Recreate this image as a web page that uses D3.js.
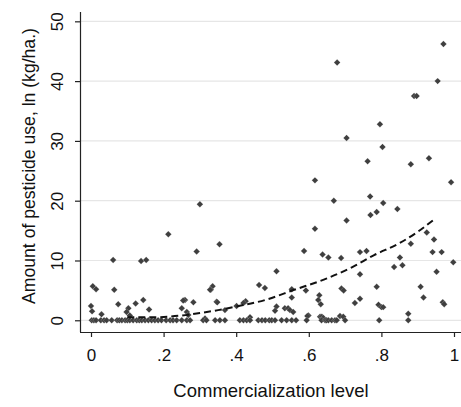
<!DOCTYPE html>
<html>
<head>
<meta charset="utf-8">
<script src="https://cdn.jsdelivr.net/npm/d3@7"></script>
<style>
    body { margin: 0; background: #ffffff; }
    text { font-family: "Liberation Sans", Arial, sans-serif; fill: #111; }
</style>
</head>
<body>
<div id="chart"></div>
<script>
// scatter points: commercialization level vs pesticide use
var commercial = [
    0.971, 0.678, 0.955, 0.890, 0.897, 0.796, 0.704, 0.803, 0.931, 0.762,
    0.881, 0.617, 0.992, 0.769, 0.669, 0.805, 0.300, 0.844, 0.787, 0.770,
    0.704, 0.617, 0.925, 0.213, 0.945, 0.881, 0.354, 0.587, 0.759, 0.741,
    0.941, 0.966, 0.291, 0.638, 0.654, 0.689, 0.851, 0.061, 0.138, 0.152,
    0.998, 0.858, 0.835, 0.511, 0.952, 0.741, 0.463, 0.479, 0.335, 0.330,
    0.005, 0.014, 0.064, 0.328, 0.553, 0.592, 0.690, 0.696, 0.787, 0.908,
    0.629, 0.553, 0.916, 0.741, 0.626, 0.144, 0.259, 0.254, 0.426, 0.346,
    0.282, 0.348, 0.969, 0.420, 0.727, 0.123, 0.075, 0.633, 0.973, 0.792,
    0.000, 0.401, 0.511, 0.800, 0.805, 0.250, 0.103, 0.534, 0.543, 0.160,
    0.369, 0.548, 0.507, 0.003, 0.264, 0.557, 0.098, 0.029, 0.874, 0.268,
    0.107, 0.599, 0.596, 0.686, 0.631, 0.695, 0.636, 0.438, 0.640, 0.314,
    // zero-use farms
    0.002, 0.008, 0.014, 0.027, 0.036, 0.043, 0.057, 0.072, 0.078, 0.085,
    0.094, 0.100, 0.107, 0.116, 0.126, 0.133, 0.140, 0.149, 0.158, 0.167,
    0.176, 0.185, 0.194, 0.207, 0.218, 0.226, 0.236, 0.250, 0.264, 0.273,
    0.309, 0.318, 0.342, 0.355, 0.369, 0.410, 0.420, 0.429, 0.438, 0.461,
    0.471, 0.480, 0.491, 0.498, 0.507, 0.525, 0.539, 0.553, 0.565, 0.594,
    0.635, 0.645, 0.649, 0.654, 0.663, 0.672, 0.677, 0.700, 0.794, 0.874
];
var pesticide = [
    46.2, 43.1, 40.0, 37.5, 37.5, 32.8, 30.5, 29.0, 27.1, 26.6,
    26.1, 23.4, 23.1, 20.7, 20.0, 19.6, 19.4, 18.6, 18.1, 17.6,
    16.7, 15.3, 14.7, 14.4, 13.5, 12.8, 12.7, 11.6, 11.6, 11.4,
    11.4, 11.4, 11.5, 11.0, 10.5, 10.4, 10.5, 10.1, 9.9, 10.1,
    9.7, 9.2, 8.9, 8.2, 8.1, 7.7, 5.9, 5.4, 5.7, 5.1,
    5.7, 5.2, 5.1, 5.1, 5.2, 5.0, 5.3, 5.0, 5.6, 5.6,
    4.2, 3.8, 3.8, 3.6, 3.4, 3.4, 3.4, 3.3, 3.2, 3.1,
    3.0, 3.0, 3.0, 2.9, 2.9, 2.8, 2.7, 2.7, 2.7, 2.6,
    2.4, 2.4, 2.3, 2.2, 2.2, 2.0, 2.0, 2.0, 2.0, 1.8,
    1.7, 1.7, 1.6, 1.5, 1.4, 1.4, 1.4, 1.0, 1.1, 0.9,
    0.8, 0.8, 0.7, 0.7, 0.6, 0.6, 0.6, 0.5, 0.4, 0.3,
    0, 0, 0, 0, 0, 0, 0, 0, 0, 0,
    0, 0, 0, 0, 0, 0, 0, 0, 0, 0,
    0, 0, 0, 0, 0, 0, 0, 0, 0, 0,
    0, 0, 0, 0, 0, 0, 0, 0, 0, 0,
    0, 0, 0, 0, 0, 0, 0, 0, 0, 0,
    0, 0, 0, 0, 0, 0, 0, 0, 0, 0
];

// fitted curve
var fitX = [0.10, 0.17, 0.25, 0.30, 0.35, 0.40, 0.48, 0.56, 0.65, 0.72, 0.78, 0.85, 0.90, 0.95];
var fitY = [0.5, 0.5, 0.8, 1.2, 1.7, 2.3, 3.4, 5.1, 7.0, 8.9, 10.9, 12.9, 14.8, 17.1];

var xTicks = [0, 0.2, 0.4, 0.6, 0.8, 1];
var xTickLabels = ["0", ".2", ".4", ".6", ".8", "1"];
var yTicks = [0, 10, 20, 30, 40, 50];

var svgWidth = 461;
var svgHeight = 407;

var margin = { top: 12, right: 0, bottom: 75, left: 80 };
var width = svgWidth - margin.left - margin.right;
var height = svgHeight - margin.top - margin.bottom;

var svg = d3.select("#chart")
    .append("svg")
    .attr("width", svgWidth)
    .attr("height", svgHeight);

var chartGroup = svg.append("g")
    .attr("transform", `translate(${margin.left}, ${margin.top})`);

var xScale = d3.scaleLinear()
    .domain([-0.0303, 1.0193])
    .range([0, width]);

var yScale = d3.scaleLinear()
    .domain([-1.96, 51.56])
    .range([height, 0]);

// gridlines
chartGroup.selectAll("line.grid")
    .data(yTicks)
    .enter()
    .append("line")
    .attr("class", "grid")
    .attr("x1", 0)
    .attr("x2", width)
    .attr("y1", d => yScale(d))
    .attr("y2", d => yScale(d))
    .attr("stroke", "#e6e6e6")
    .attr("stroke-width", 1.2);

// axes
var bottomAxis = d3.axisBottom(xScale)
    .tickValues(xTicks)
    .tickFormat((d, i) => xTickLabels[i])
    .tickSize(5)
    .tickPadding(8);

var leftAxis = d3.axisLeft(yScale)
    .tickValues(yTicks)
    .tickSize(5)
    .tickPadding(0);

var xAxis = chartGroup.append("g")
    .attr("transform", `translate(0, ${height})`)
    .call(bottomAxis);

xAxis.select(".domain").attr("d", `M0,0.5H${width}`);
xAxis.selectAll("text")
    .style("font-size", "17px")
    .attr("dy", "0.95em");

var yAxis = chartGroup.append("g")
    .call(leftAxis);

yAxis.select(".domain").attr("d", `M0.5,0V${height}`);
yAxis.selectAll("text")
    .style("font-size", "17px")
    .attr("text-anchor", "middle")
    .attr("x", 0)
    .attr("dy", 0)
    .attr("transform", "translate(-17, 0) rotate(-90)");

svg.selectAll(".domain, .tick line").attr("stroke", "#222").attr("stroke-width", 1.2);

// points
var points = commercial.map((c, i) => ({ x: c, y: pesticide[i] }));

var diamond = d3.symbol().type(d3.symbolSquare).size(21);

chartGroup.selectAll("path.pt")
    .data(points)
    .enter()
    .append("path")
    .attr("class", "pt")
    .attr("d", diamond)
    .attr("transform", d => `translate(${xScale(d.x)}, ${yScale(d.y)}) rotate(45)`)
    .attr("fill", "#3f3f3f")
    .attr("stroke", "#ffffff")
    .attr("stroke-width", 0.3)
    .attr("stroke-opacity", 0.6);

// fitted line
var fitLine = d3.line()
    .x(d => xScale(d[0]))
    .y(d => yScale(d[1]))
    .curve(d3.curveMonotoneX);

chartGroup.append("path")
    .datum(fitX.map((x, i) => [x, fitY[i]]))
    .attr("d", fitLine)
    .attr("fill", "none")
    .attr("stroke", "#111")
    .attr("stroke-width", 2)
    .attr("stroke-dasharray", "7,4");

// axis titles
svg.append("text")
    .attr("x", 271)
    .attr("y", 397)
    .attr("text-anchor", "middle")
    .style("font-size", "18.5px")
    .text("Commercialization level");

svg.append("text")
    .attr("transform", `translate(35, 166) rotate(-90)`)
    .attr("text-anchor", "middle")
    .style("font-size", "17.6px")
    .text("Amount of pesticide use, ln (kg/ha.)");
</script>
</body>
</html>
